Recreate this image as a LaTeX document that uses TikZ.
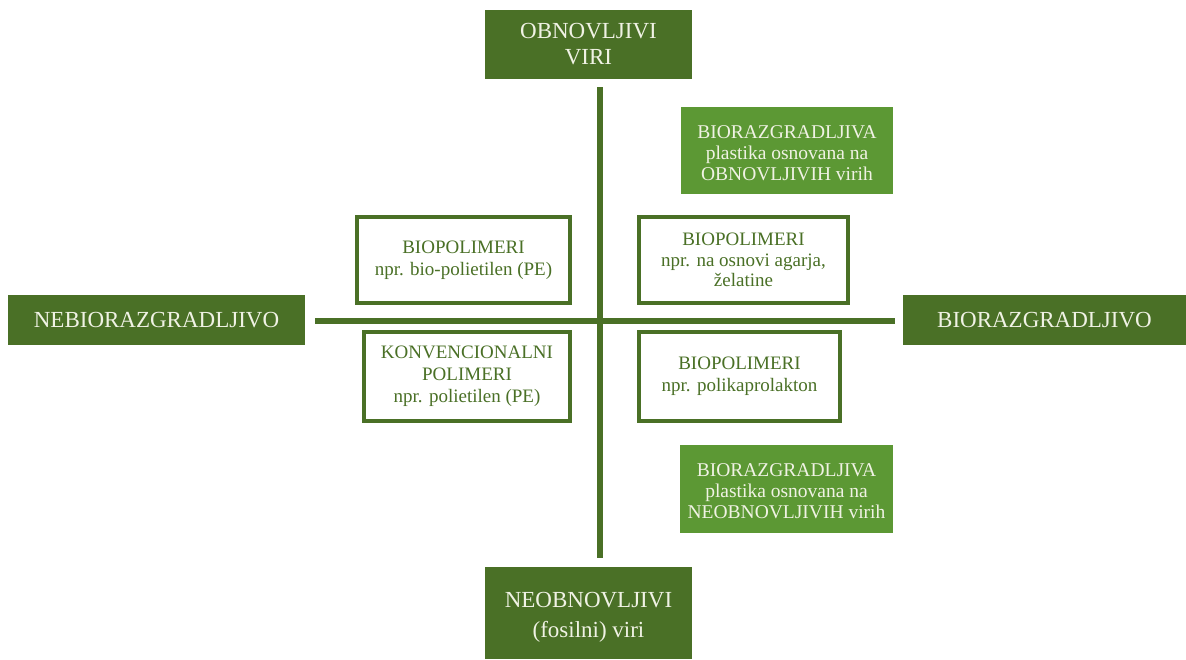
\documentclass[tikz,border=0pt]{standalone}
\usepackage{fontspec}
\setmainfont{Liberation Serif}
\definecolor{dkgreen}{RGB}{74,112,38}
\definecolor{ltgreen}{RGB}{92,152,52}
\definecolor{cream}{RGB}{240,242,228}
\tikzset{
  axisbox/.style={rectangle, fill=dkgreen, draw=none, text=cream, align=center, inner sep=0pt,
    font=\fontsize{23}{26}\selectfont},
  plasticbox/.style={rectangle, fill=ltgreen, draw=none, inner sep=0pt},
  plastictext/.style={text=cream, align=center, inner sep=0pt,
    font=\fontsize{19.5}{21}\selectfont},
  polybox/.style={rectangle, draw=dkgreen, line width=4pt, fill=white, text=dkgreen, align=center, inner sep=0pt,
    font=\fontsize{19}{22}\selectfont},
  axisline/.style={draw=dkgreen, line width=6pt}
}
\begin{document}
\begin{tikzpicture}[x=1pt,y=-1pt]
\useasboundingbox (0,0) rectangle (1186,659);
% axis boxes
\node[axisbox, minimum width=207pt, minimum height=69pt] (top) at (588.5,44.5) {OBNOVLJIVI\\VIRI};
\node[axisbox, minimum width=207pt, minimum height=92pt] (bottom) at (588.5,613) {};
\node[axisbox, font=\fontsize{23}{30}\selectfont] (bottomtext) at (588.5,617) {NEOBNOVLJIVI\\(fosilni) viri};
\node[axisbox, minimum width=297pt, minimum height=50pt] (left) at (156.5,320) {NEBIORAZGRADLJIVO};
\node[axisbox, minimum width=283pt, minimum height=50pt] (right) at (1044.5,320) {BIORAZGRADLJIVO};
% axes
\coordinate (vtop) at (600,87);
\coordinate (vbot) at (600,558);
\coordinate (hleft) at (315,320.5);
\coordinate (hright) at (895,320.5);
\draw[axisline] (vtop) -- (vbot);
\draw[axisline] (hleft) -- (hright);
% light green boxes
\node[plasticbox, minimum width=212pt, minimum height=87pt] (bioren) at (787,150.5) {};
\node[plastictext] (biorentext) at (787,153.5)
  {BIORAZGRADLJIVA\\plastika osnovana na\\OBNOVLJIVIH virih};
\node[plasticbox, minimum width=213pt, minimum height=88pt] (biononren) at (786.5,489) {};
\node[plastictext] (biononrentext) at (786.5,491.5)
  {BIORAZGRADLJIVA\\plastika osnovana na\\NEOBNOVLJIVIH virih};
% outlined boxes
\node[polybox, minimum width=213pt, minimum height=86pt] (tl) at (463.5,260)
  {BIOPOLIMERI\\npr. bio-polietilen (PE)};
\node[polybox, minimum width=209pt, minimum height=86pt, font=\fontsize{19}{20.5}\selectfont] (tr) at (743.5,260)
  {BIOPOLIMERI\\npr. na osnovi agarja,\\želatine};
\node[polybox, minimum width=206pt, minimum height=89pt] (bl) at (467,376.5)
  {KONVENCIONALNI\\POLIMERI\\npr. polietilen (PE)};
\node[polybox, minimum width=201pt, minimum height=89pt] (br) at (739.5,376.5)
  {BIOPOLIMERI\\npr. polikaprolakton};
\end{tikzpicture}
\end{document}
